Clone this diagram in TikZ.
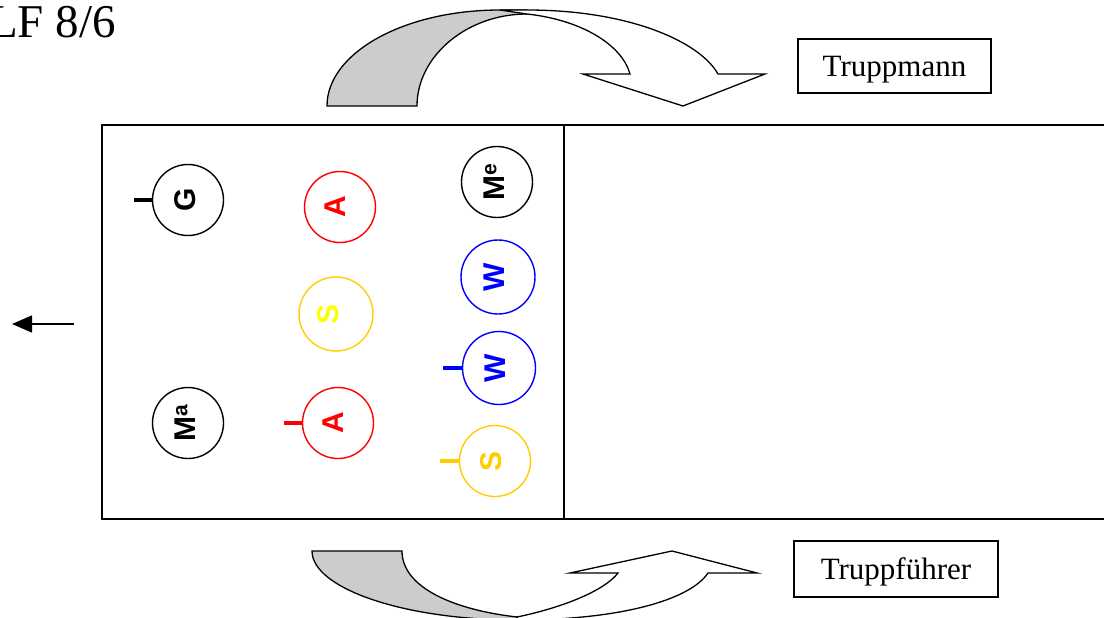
\documentclass[tikz,border=0pt]{standalone}
\usepackage{fontspec}
\setmainfont{Liberation Serif}
\newfontfamily\arialf{Liberation Sans}
\usetikzlibrary{arrows.meta}
\definecolor{bandgray}{RGB}{204,204,204}
\definecolor{gold}{RGB}{255,204,0}
\definecolor{yel}{RGB}{255,255,0}
\definecolor{pred}{RGB}{255,0,0}
\definecolor{pblue}{RGB}{0,0,255}
\newcommand{\supl}[1]{\raisebox{8pt}{\fontsize{21}{21}\selectfont #1}}
\begin{document}
\begin{tikzpicture}[x=1pt,y=-1pt,
  circ/.style={circle,draw,line width=1.4pt,minimum size=71pt,inner sep=0pt},
  lett/.style={font=\arialf\bfseries\fontsize{30}{30}\selectfont,rotate=90,inner sep=0pt},
  tickmark/.style={line width=4pt},
  lbox/.style={draw,line width=1.3pt,font=\fontsize{31}{31}\selectfont,text depth=0pt,inner sep=0pt},
  band/.style={draw,line width=1.3pt,line join=miter}
]
\useasboundingbox (0,0) rectangle (1104,618);
\clip (0,0) rectangle (1104,618);

% title
\node[anchor=base east,inner sep=0pt,font=\fontsize{47}{47}\selectfont] (title) at (116,38) {LF 8/6};

% main frame
\draw[line width=1.3pt] (102,125) rectangle (1120,519);
\draw[line width=1.3pt] (564,125) -- (564,519);

% left arrow
\coordinate (la1) at (74,324);
\coordinate (la2) at (12,324);
\draw[line width=1.5pt,-{Triangle[length=20pt,width=17pt]}] (la1) -- (la2);

% label boxes
\node[lbox,minimum width=193pt,minimum height=54pt] (tm) at (894.5,66) {Truppmann};
\node[lbox,minimum width=204pt,minimum height=56pt] (tf) at (896,569) {Truppf\"uhrer};

% top curved arrow
\path[band,fill=bandgray] (327,106) -- (417,106) .. controls (417,56) and (467,14) .. (527,14)
  -- (527,10) -- (500,10) .. controls (404,10) and (327,53) .. (327,106) -- cycle;
\path[band,fill=white] (500,10) -- (527,10) .. controls (630,10) and (700,42) .. (718,74)
  -- (765,74) -- (683,106) -- (583,74) -- (630,74)
  .. controls (622,45) and (582,20) .. (527,14) -- cycle;

% bottom curved arrow
\path[band,fill=bandgray] (312,551) -- (402,551) .. controls (402,588) and (455,610) .. (517,617)
  -- (517,620) .. controls (403,620) and (312,588) .. (312,551) -- cycle;
\path[band,fill=white] (517,620) .. controls (620,620) and (690,600) .. (708,573)
  -- (757,573) -- (672,551) -- (570,573) -- (618,573)
  .. controls (605,590) and (565,607) .. (517,617) -- cycle;

% circles
\node[circ,draw=black] (g) at (188,200) {};
\node[lett,text=black] (gt) at ([xshift=-3]g.center) {G};
\draw[tickmark,black] (g.west) -- ++(-18,0);

\node[circ,draw=pred] (a1) at (340,207) {};
\node[lett,text=pred] (a1t) at ([xshift=-5]a1.center) {A};

\node[circ,draw=gold,minimum size=74pt] (s1) at (336,314) {};
\node[lett,text=yel] (s1t) at ([xshift=-8]s1.center) {S};

\node[circ,draw=black] (ma) at (188,423) {};
\node[lett,text=black] (mat) at ([xshift=-3]ma.center) {M\supl{a}};

\node[circ,draw=pred] (a2) at (338,423) {};
\node[lett,text=pred] (a2t) at ([xshift=-5]a2.center) {A};
\draw[tickmark,pred] (a2.west) -- ++(-18,0);

\node[circ,draw=black] (me) at (497,182) {};
\node[lett,text=black] (met) at ([xshift=-3]me.center) {M\supl{e}};

\node[circ,draw=pblue,minimum size=74pt] (w1) at (498,277) {};
\node[lett,text=pblue] (w1t) at ([xshift=-4]w1.center) {W};

\node[circ,draw=pblue,minimum size=73pt] (w2) at (499,368) {};
\node[lett,text=pblue] (w2t) at ([xshift=-4]w2.center) {W};
\draw[tickmark,pblue] (w2.west) -- ++(-19,0);

\node[circ,draw=gold] (s2) at (495,461) {};
\node[lett,text=gold] (s2t) at ([xshift=-4]s2.center) {S};
\draw[tickmark,gold] (s2.west) -- ++(-19,0);
\end{tikzpicture}
\end{document}
